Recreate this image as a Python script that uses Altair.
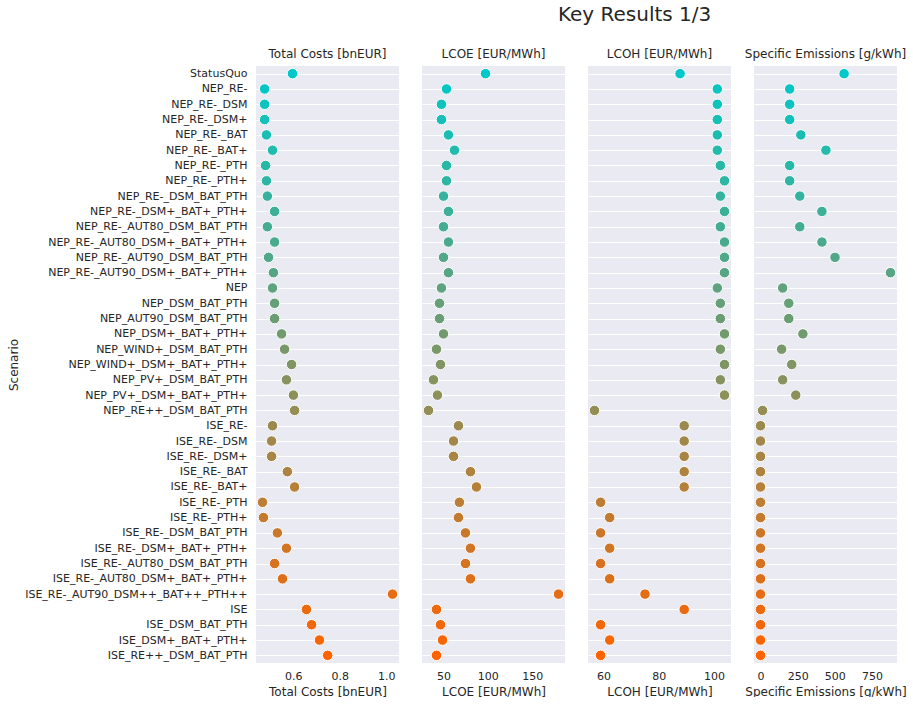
import altair as alt
import pandas as pd

scenarios = [
    "StatusQuo", "NEP_RE-", "NEP_RE-_DSM", "NEP_RE-_DSM+", "NEP_RE-_BAT", "NEP_RE-_BAT+",
    "NEP_RE-_PTH", "NEP_RE-_PTH+", "NEP_RE-_DSM_BAT_PTH", "NEP_RE-_DSM+_BAT+_PTH+",
    "NEP_RE-_AUT80_DSM_BAT_PTH", "NEP_RE-_AUT80_DSM+_BAT+_PTH+",
    "NEP_RE-_AUT90_DSM_BAT_PTH", "NEP_RE-_AUT90_DSM+_BAT+_PTH+",
    "NEP", "NEP_DSM_BAT_PTH", "NEP_AUT90_DSM_BAT_PTH", "NEP_DSM+_BAT+_PTH+",
    "NEP_WIND+_DSM_BAT_PTH", "NEP_WIND+_DSM+_BAT+_PTH+", "NEP_PV+_DSM_BAT_PTH",
    "NEP_PV+_DSM+_BAT+_PTH+", "NEP_RE++_DSM_BAT_PTH",
    "ISE_RE-", "ISE_RE-_DSM", "ISE_RE-_DSM+", "ISE_RE-_BAT", "ISE_RE-_BAT+",
    "ISE_RE-_PTH", "ISE_RE-_PTH+", "ISE_RE-_DSM_BAT_PTH", "ISE_RE-_DSM+_BAT+_PTH+",
    "ISE_RE-_AUT80_DSM_BAT_PTH", "ISE_RE-_AUT80_DSM+_BAT+_PTH+",
    "ISE_RE-_AUT90_DSM++_BAT++_PTH++",
    "ISE", "ISE_DSM_BAT_PTH", "ISE_DSM+_BAT+_PTH+", "ISE_RE++_DSM_BAT_PTH",
]

total_costs = [
    0.597, 0.477, 0.477, 0.477, 0.485, 0.511, 0.481, 0.485, 0.489, 0.520,
    0.489, 0.520, 0.494, 0.515, 0.511, 0.520, 0.520, 0.550, 0.563, 0.593,
    0.571, 0.601, 0.606,
    0.511, 0.507, 0.507, 0.575, 0.606, 0.468, 0.472, 0.532, 0.571,
    0.520, 0.554, 1.027, 0.657, 0.679, 0.713, 0.748,
]

lcoe = [
    97.4, 53.4, 47.7, 47.7, 55.6, 62.4, 53.4, 53.4, 50.0, 55.6,
    50.0, 55.6, 50.0, 55.6, 47.7, 45.5, 45.5, 50.0, 42.1, 46.6,
    38.7, 43.2, 33.1,
    66.9, 61.3, 61.3, 80.4, 87.2, 68.0, 66.9, 74.8, 80.4,
    74.8, 80.4, 179.7, 42.1, 46.6, 48.9, 42.1,
]

lcoh = [
    87.7, 101.2, 101.2, 101.2, 101.2, 101.2, 102.3, 103.8, 102.3, 103.8,
    102.3, 103.8, 103.8, 103.8, 101.2, 102.3, 102.3, 103.8, 102.3, 103.8,
    102.3, 103.8, 56.7,
    89.2, 89.2, 89.2, 89.2, 89.2, 58.9, 62.2, 58.9, 62.2,
    58.9, 62.2, 75.0, 89.2, 58.9, 62.2, 58.9,
]

emissions = [
    562, 196, 196, 196, 271, 440, 196, 196, 264, 413,
    264, 413, 501, 874, 149, 190, 190, 285, 142, 210,
    149, 237, 14,
    0, 0, 0, 0, 0, 0, 0, 0, 0,
    0, 0, 0, 0, 0, 0, 0,
]

# (column, panel title, values, tick values, tick format)
metrics = [
    ("total_costs", "Total Costs [bnEUR]", total_costs, [0.6, 0.8, 1.0], ".1f"),
    ("lcoe", "LCOE [EUR/MWh]", lcoe, [50, 100, 150], "d"),
    ("lcoh", "LCOH [EUR/MWh]", lcoh, [60, 80, 100], "d"),
    ("emissions", "Specific Emissions [g/kWh]", emissions, [0, 250, 500, 750], "d"),
]

# Blended palette running from teal to orange across the scenarios
start_rgb = (0, 200, 200)
end_rgb = (255, 98, 0)
n = len(scenarios)
palette = []
for i in range(n):
    t = i / (n - 1)
    r, g, b = (round(s + (e - s) * t) for s, e in zip(start_rgb, end_rgb))
    palette.append(f"#{r:02x}{g:02x}{b:02x}")

df = pd.DataFrame({"Scenario": scenarios})
for col, _, values, _, _ in metrics:
    df[col] = values

TEXT = "#262626"
PANEL_W = 143
PANEL_H = 597

panels = []
for k, (col, label, values, ticks, fmt) in enumerate(metrics):
    lo, hi = min(values), max(values)
    pad = (hi - lo) * 0.05
    first = k == 0
    y_axis_opts = dict(
        labels=first,
        ticks=False,
        domain=False,
        grid=True,
        gridColor="white",
        gridWidth=1,
        labelFontSize=11,
        labelColor=TEXT,
        labelPadding=9,
        labelLimit=400,
    )
    if first:
        y_axis_opts.update(
            title="Scenario",
            titleFontSize=12,
            titleFontWeight="normal",
            titleColor=TEXT,
            titleX=-243,
            titleY=PANEL_H / 2,
            titleAngle=-90,
            titleAlign="center",
            titleBaseline="middle",
        )
    else:
        y_axis_opts["title"] = None
    panel = (
        alt.Chart(df)
        .mark_circle(size=110, opacity=1, stroke="white", strokeWidth=1)
        .encode(
            x=alt.X(
                f"{col}:Q",
                scale=alt.Scale(domain=[lo - pad, hi + pad], nice=False, zero=False),
                axis=alt.Axis(
                    title=label,
                    values=ticks,
                    format=fmt,
                    grid=False,
                    ticks=False,
                    domain=False,
                    labelFontSize=11,
                    labelColor=TEXT,
                    labelPadding=7,
                    titleFontSize=12,
                    titleFontWeight="normal",
                    titleColor=TEXT,
                    titlePadding=5,
                ),
            ),
            y=alt.Y("Scenario:N", sort=scenarios, axis=alt.Axis(**y_axis_opts)),
            color=alt.Color(
                "Scenario:N",
                scale=alt.Scale(domain=scenarios, range=palette),
                legend=None,
            ),
            tooltip=["Scenario:N", alt.Tooltip(f"{col}:Q", title=label)],
        )
        .properties(
            width=PANEL_W,
            height=PANEL_H,
            title=alt.TitleParams(
                label, fontSize=12, fontWeight="normal", color=TEXT, offset=5
            ),
        )
    )
    panels.append(panel)

chart = (
    alt.hconcat(*panels, spacing=23, bounds="flush")
    .properties(
        title=alt.TitleParams(
            "Key Results 1/3",
            fontSize=20,
            fontWeight="normal",
            color=TEXT,
            anchor="middle",
            dx=178,
            offset=23,
        ),
        padding={"left": 7, "top": 5, "right": 0, "bottom": 0},
    )
    .configure(font="DejaVu Sans")
    .configure_view(stroke=None, fill="#EAEAF2")
    .configure_scale(pointPadding=0.5)
)

chart.save("out.html", embed_options={"renderer": "svg", "actions": False})
